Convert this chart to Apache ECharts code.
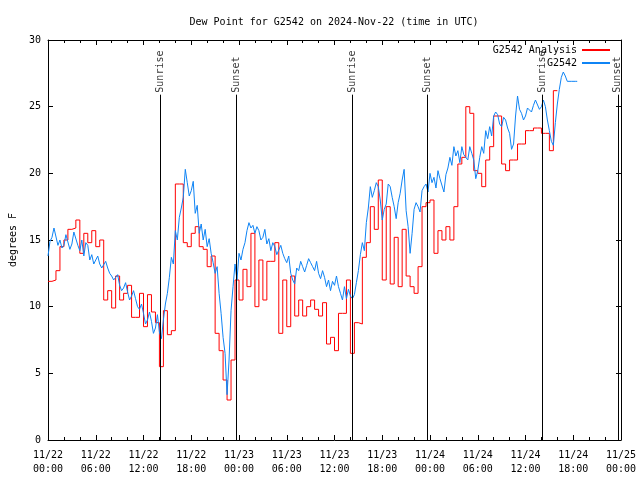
<!DOCTYPE html>
<html><head><meta charset="utf-8">
<script src="https://cdn.jsdelivr.net/npm/echarts@6/dist/echarts.min.js"></script>
<style>html,body{margin:0;padding:0;background:#fff}#c{width:640px;height:480px}</style>
</head><body><div id="c"></div>
<script>
// hours since 2024-11-22 00:00 UTC
const analysisStepHours = 0.5;
const stationStepHours = 0.25;
const analysisName = 'G2542 Analysis';
const stationName = 'G2542';
const analysisValues = [11.9,12.0,12.7,14.5,15.0,15.8,15.9,16.5,14.0,15.5,14.8,15.7,14.5,15.0,10.5,11.2,9.9,12.3,10.5,11.0,11.6,9.2,9.2,11.0,8.5,10.9,9.6,8.8,5.5,9.7,7.9,8.2,
19.2,19.2,14.8,14.5,15.5,16.0,14.5,14.3,13.0,13.8,8.0,6.7,4.5,3.0,6.0,12.0,10.5,12.8,11.5,15.5,10.0,13.5,10.5,13.4,13.4,14.8,8.0,12.0,8.5,12.3,9.3,10.5,
9.3,10.0,10.5,9.8,9.3,10.3,7.2,7.7,6.7,9.5,9.5,12.0,6.5,8.8,8.7,13.7,14.8,17.5,15.8,19.5,12.0,17.5,11.7,15.2,11.5,15.8,12.3,11.5,11.0,13.0,17.5,17.8,
18.0,14.0,15.7,15.0,16.0,15.0,17.5,20.7,21.2,25.0,24.5,20.2,20.0,19.0,21.0,22.0,24.3,24.3,20.7,20.2,21.0,21.0,22.2,22.2,23.2,23.2,23.4,23.4,23.0,23.0,21.7,26.2,26.2];
const stationValues = [
13.8,14.9,15.2,15.9,15.8,14.6,15.0,14.4,14.6,15.4,15.3,14.3,14.7,15.6,15.5,14.6,
14.2,15.0,13.8,14.8,14.6,13.5,13.9,13.2,13.5,13.8,13.2,12.9,13.0,13.4,12.9,12.5,
12.3,12.0,11.9,12.4,11.6,11.2,11.4,11.8,11.1,10.5,10.8,11.2,10.6,10.0,9.8,10.2,
9.5,8.7,9.0,9.6,8.9,8.0,8.4,9.4,8.1,7.6,9.0,10.2,11.0,12.2,13.7,13.2,
15.7,15.0,16.7,17.4,18.2,20.3,19.3,18.3,18.7,19.4,17.0,17.6,15.5,16.2,15.0,15.8,
14.5,15.1,14.0,13.3,12.5,13.0,11.0,9.5,7.7,6.5,3.4,6.0,9.7,11.5,13.2,12.0,
14.0,13.5,14.3,14.8,15.7,16.3,15.9,16.1,15.5,16.0,15.7,15.0,15.2,15.8,14.7,15.1,
14.2,14.8,14.5,13.9,14.0,14.6,14.0,13.6,13.3,13.8,12.5,12.0,11.7,12.9,12.7,13.4,
13.0,12.6,13.1,13.6,13.3,13.0,12.7,13.4,12.5,12.1,12.7,12.2,11.5,12.0,11.2,11.9,
11.6,12.3,11.5,11.0,10.5,11.5,10.6,11.3,10.8,10.6,10.9,11.8,12.7,13.9,14.8,14.2,
16.3,17.4,19.0,18.2,18.7,19.3,19.0,18.0,16.5,17.3,17.7,19.2,19.0,18.2,17.5,16.6,
17.8,18.5,19.5,20.3,17.2,16.0,14.0,15.5,17.3,17.8,17.5,17.1,18.7,19.0,19.2,18.6,
20.0,19.3,19.7,18.9,20.2,19.6,19.5,18.6,19.9,20.4,21.2,20.6,22.0,21.3,21.7,20.8,
22.0,21.4,21.5,21.0,22.0,21.5,21.0,19.6,20.2,21.2,22.0,21.5,23.2,22.6,23.5,22.8,
24.3,24.6,24.4,23.7,23.5,24.2,24.0,23.4,23.0,21.8,22.2,24.3,25.8,24.8,24.5,24.0,
24.3,24.9,25.0,24.6,25.1,25.5,25.4,24.8,25.0,25.5,25.0,24.0,23.2,22.4,22.1,23.8,
25.2,26.3,27.2,27.6,27.3,26.9,26.8,26.9,26.9,26.9,26.9];
const sunEventNames = ['Sunrise','Sunset','Sunrise','Sunset','Sunrise','Sunset'];
const sunEventHours = [14.15,23.65,38.2,47.7,62.1,71.6];
const xTickHours = [0,6,12,18,24,30,36,42,48,54,60,66,72];
const yTicks = [0,5,10,15,20,25,30];
const sunLineTop = 25.9;

const FONT = '"DejaVu Sans Mono", "Liberation Mono", monospace';
const toPairs = (vals, step) => vals.map((v,i)=>[i*step, v]);
function fmtX(v){
  const d = 22 + Math.floor(v/24);
  const h = Math.round(v % 24);
  return '11/' + d + '\n' + (h<10?'0':'') + h + ':00';
}
const chart = echarts.init(document.getElementById('c'), null, {renderer:'canvas'});
const axisCommon = {
  axisLine:{show:true, onZero:false, lineStyle:{color:'#000', width:1}},
  splitLine:{show:false},
};
chart.setOption({
  animation:false,
  backgroundColor:'#fff',
  title:{text:'Dew Point for G2542 on 2024-Nov-22 (time in UTC)', left:329, textAlign:'center', top:12,
    textStyle:{fontFamily:FONT, fontSize:10, fontWeight:'normal', color:'#000'}},
  legend:{orient:'vertical', right:25, top:40, align:'right', itemGap:3, itemWidth:28, itemHeight:2,
    textStyle:{fontFamily:FONT, fontSize:10, color:'#000'},
    data:[{name:analysisName, icon:'rect'},{name:stationName, icon:'rect'}]},
  grid:{left:46, right:19, top:40, bottom:40, containLabel:false},
  xAxis:[
    Object.assign({type:'value', min:xTickHours[0], max:xTickHours[xTickHours.length-1], interval:6, position:'bottom',
      axisTick:{show:true, inside:true, length:5, lineStyle:{color:'#000'}},
      minorTick:{show:true, splitNumber:3, length:3, lineStyle:{color:'#000'}},
      axisLabel:{formatter:fmtX, fontFamily:FONT, fontSize:10, color:'#000', lineHeight:14, margin:8}}, axisCommon),
    Object.assign({type:'value', min:0, max:72, interval:6, position:'top',
      axisTick:{show:true, inside:true, length:5, lineStyle:{color:'#000'}},
      minorTick:{show:true, splitNumber:3, length:3, lineStyle:{color:'#000'}},
      axisLabel:{show:false}}, axisCommon)
  ],
  yAxis:[
    Object.assign({type:'value', min:yTicks[0], max:yTicks[yTicks.length-1], interval:5, position:'left',
      name:'degrees F', nameLocation:'middle', nameGap:30, nameRotate:90,
      nameTextStyle:{fontFamily:FONT, fontSize:10, color:'#000'},
      axisTick:{show:true, inside:true, length:5, lineStyle:{color:'#000'}},
      axisLabel:{fontFamily:FONT, fontSize:10, color:'#000', margin:7}}, axisCommon),
    Object.assign({type:'value', min:0, max:30, interval:5, position:'right',
      axisTick:{show:true, inside:true, length:5, lineStyle:{color:'#000'}},
      axisLabel:{show:false}}, axisCommon)
  ],
  series:[
    {name:analysisName, type:'line', step:'end', data:toPairs(analysisValues, analysisStepHours), showSymbol:false, symbol:'none',
      color:'#ff0000', lineStyle:{color:'#ff0000', width:1}, z:2,
      markLine:{silent:true, symbol:['none','none'], label:{show:false},
        lineStyle:{color:'#000', width:1, type:'solid'},
        data:sunEventHours.map(h=>[{coord:[h,0]},{coord:[h,sunLineTop]}])}},
    {name:stationName, type:'line', data:toPairs(stationValues, stationStepHours), showSymbol:false, symbol:'none',
      color:'#0f84f5', lineStyle:{color:'#0f84f5', width:1}, z:3},
    {name:'sun', type:'scatter', symbolSize:0, silent:true, z:4,
      data:sunEventHours.map((h,i)=>({value:[h,sunLineTop], name:sunEventNames[i]})),
      label:{show:true, formatter:p=>p.name, position:'top', distance:2, rotate:90, align:'left', verticalAlign:'middle',
        fontFamily:FONT, fontSize:10, color:'#000'}}
  ]
});
</script></body></html>
